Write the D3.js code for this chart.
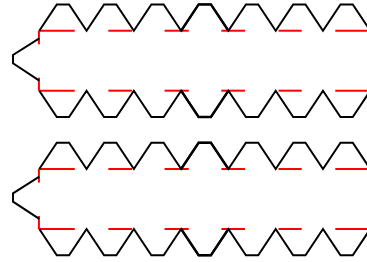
<!DOCTYPE html>
<html>
<head>
<meta charset="utf-8">
<script src="https://cdn.jsdelivr.net/npm/d3@7"></script>
<style>
  body { margin: 0; background: #fff; }
</style>
</head>
<body>
<div id="chart"></div>
<script>

// zigzag vertices (x in periods, y in amplitude units)
const zigX = [0, 0.37, 0.63, 1, 1.37, 1.63, 2, 2.37, 2.63, 3, 3.37, 3.63, 4,
              4.37, 4.63, 5, 5.37, 5.63, 6, 6.37, 6.63, 7, 7.37, 7.63, 8];
const topY = [1.14, 2.14, 2.14, 1.14, 2.14, 2.14, 1.14, 2.14, 2.14, 1.14, 2.14, 2.14, 1.14,
              2.14, 2.14, 1.14, 2.14, 2.14, 1.14, 2.14, 2.14, 1.14, 2.14, 2.14, 1.14];
const bottomY = [-1.14, -2.14, -2.14, -1.14, -2.14, -2.14, -1.14, -2.14, -2.14, -1.14, -2.14, -2.14, -1.14,
                 -2.14, -2.14, -1.14, -2.14, -2.14, -1.14, -2.14, -2.14, -1.14, -2.14, -2.14, -1.14];

// highlighted period (drawn twice)
const boldFrom = 9, boldTo = 12;

// left bracket
const bracketX = [0, -0.556, -0.556, 0];
const bracketY = [0.848, 0.217, -0.099, -0.755];

// red ticks at the bracket ends
const tickTop = [1.14, 0.624];
const tickBottom = [-0.646, -1.14];

// red dashes along both baselines
const dashStart = [-0.01, 1.46, 2.65, 3.85, 5.06, 6.26];
const dashEnd   = [0.75, 1.96, 3.16, 4.35, 5.55, 7.1];

const width = 367, height = 262;
const panelCenters = [60.7, 199];

const svg = d3.select("#chart")
    .append("svg")
    .attr("width", width)
    .attr("height", height);

const x = d3.scaleLinear()
    .domain([0, 7])
    .range([39.3, 39.3 + 7 * 47.28]);

const line = (yScale) => d3.line()
    .x(d => x(d[0]))
    .y(d => yScale(d[1]));

panelCenters.forEach(cy => {
  const y = d3.scaleLinear()
      .domain([-1, 1])
      .range([cy + 26.3, cy - 26.3]);

  const g = svg.append("g");
  const topPts = zigX.map((v, i) => [v, topY[i]]);
  const botPts = zigX.map((v, i) => [v, bottomY[i]]);

  // red dashes
  [1.14, -1.14].forEach(base => {
    g.selectAll(null)
        .data(dashStart)
        .enter()
        .append("line")
          .attr("x1", d => x(d))
          .attr("x2", (d, i) => x(dashEnd[i]))
          .attr("y1", y(base))
          .attr("y2", y(base))
          .attr("stroke", "red")
          .attr("stroke-width", 2);
  });

  // red ticks
  [tickTop, tickBottom].forEach(t => {
    g.append("line")
        .attr("x1", x(-0.008)).attr("x2", x(-0.008))
        .attr("y1", y(t[0])).attr("y2", y(t[1]))
        .attr("stroke", "red")
        .attr("stroke-width", 2);
  });

  // zigzags
  [topPts, botPts].forEach(pts => {
    g.append("path")
        .attr("d", line(y)(pts))
        .attr("fill", "none")
        .attr("stroke", "black")
        .attr("stroke-width", 2);
    g.append("path")
        .attr("d", line(y)(pts.slice(boldFrom, boldTo + 1)))
        .attr("fill", "none")
        .attr("stroke", "black")
        .attr("stroke-width", 2.4);
  });

  // bracket
  g.append("path")
      .attr("d", line(y)(bracketX.map((v, i) => [v, bracketY[i]])))
      .attr("fill", "none")
      .attr("stroke", "black")
      .attr("stroke-width", 2);
});

</script>
</body>
</html>
